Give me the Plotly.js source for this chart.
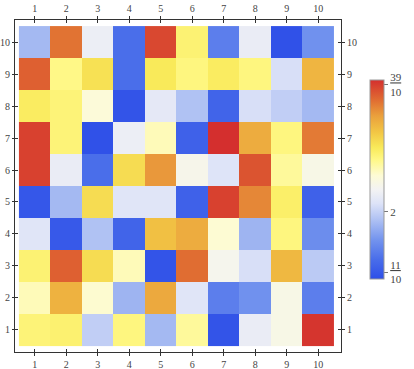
<!DOCTYPE html>
<html>
<head>
<meta charset="utf-8">
<script src="https://cdn.plot.ly/plotly-3.0.1.min.js"></script>
<style>html,body{margin:0;padding:0;background:#fff;}#chart{width:414px;height:369px;}</style>
</head>
<body>
<div id="chart"></div>
<script>
// Column and row positions
var cols = [1, 2, 3, 4, 5, 6, 7, 8, 9, 10];
var rows = [1, 2, 3, 4, 5, 6, 7, 8, 9, 10];
// Cell values, one array per row (row 1 at the bottom)
var row1  = [2.84, 2.87, 1.98, 2.81, 1.83, 2.72, 1.06, 2.25, 2.43, 3.94];
var row2  = [2.63, 3.32, 2.56, 1.80, 3.38, 2.16, 1.42, 1.56, 2.43, 1.42];
var row3  = [2.86, 3.73, 3.05, 2.63, 1.06, 3.67, 2.38, 2.10, 3.28, 1.95];
var row4  = [2.16, 1.10, 1.89, 1.20, 3.23, 3.36, 2.55, 1.80, 2.81, 1.53];
var row5  = [1.08, 1.83, 3.05, 2.16, 2.16, 1.18, 3.88, 3.55, 2.90, 1.18];
var row6  = [3.88, 2.25, 1.30, 3.05, 3.47, 2.40, 2.14, 3.79, 2.72, 2.43];
var row7  = [3.88, 2.84, 1.03, 2.27, 2.63, 1.18, 3.97, 3.36, 2.81, 3.61];
var row8  = [2.93, 2.84, 2.52, 1.06, 2.20, 1.89, 1.20, 2.10, 1.98, 1.83];
var row9  = [3.73, 2.78, 3.02, 1.30, 2.96, 2.81, 2.93, 2.81, 2.10, 3.30];
var row10 = [1.83, 3.64, 2.27, 1.30, 3.85, 2.86, 1.42, 2.25, 1.03, 1.56];
// Colour bar ticks
var barTickVals = [1.1, 2, 3.9];
var barTickText = ["<span style='text-decoration:underline'>11</span><br>10", "2", "<span style='text-decoration:underline'>39</span><br>10"];
var zMin = 1.0, zMax = 3.97;

var z = [row1, row2, row3, row4, row5, row6, row7, row8, row9, row10];

var colorscale = [
  [0.00, '#2d4ee8'], [0.10, '#4a6eea'], [0.20, '#7595ee'], [0.30, '#b0c2f3'],
  [0.38, '#dde3f8'], [0.45, '#f3f3f3'], [0.52, '#fdfbd5'], [0.60, '#fff886'],
  [0.66, '#f9ea5a'], [0.74, '#f2c544'], [0.82, '#eaa03c'], [0.90, '#e06c32'],
  [1.00, '#d42f2e']
];

var tickFont = {family: 'Liberation Serif, Times New Roman, serif', size: 10, color: '#444'};

var heat = {
  type: 'heatmap', x: cols, y: rows, z: z,
  zmin: zMin, zmax: zMax, colorscale: colorscale,
  xaxis: 'x', yaxis: 'y', hoverinfo: 'z',
  colorbar: {
    x: 374, xanchor: 'left', xref: 'paper',
    y: 0.5196, yanchor: 'middle',
    thickness: 14, thicknessmode: 'pixels',
    len: 199, lenmode: 'pixels',
    outlinewidth: 1, outlinecolor: '#999',
    tickmode: 'array', tickvals: barTickVals, ticktext: barTickText,
    ticks: 'outside', ticklen: 4, tickcolor: '#777',
    tickfont: {family: 'Liberation Serif, Times New Roman, serif', size: 11, color: '#444'}, xpad: 0, ypad: 0
  }
};
// colour bar x in paper units (left edge at 374px)
heat.colorbar.x = (374 - 15) / 330;
var dummy2 = {type: 'scatter', x: [], y: [], xaxis: 'x2', yaxis: 'y2', showlegend: false, hoverinfo: 'skip'};
var dummy3 = {type: 'scatter', x: [], y: [], xaxis: 'x3', yaxis: 'y3', showlegend: false, hoverinfo: 'skip'};

var xr = [0.375, 10.72], yr = [0.31, 10.69];
function ax(extra) {
  var base = {
    tickmode: 'array', tickvals: cols, ticktext: cols.map(String),
    showgrid: false, zeroline: false, tickfont: tickFont,
    ticklen: 3, tickcolor: '#333', tickwidth: 1, fixedrange: true,
    ticklabelstandoff: 0
  };
  for (var k in extra) base[k] = extra[k];
  return base;
}

var layout = {
  width: 414, height: 369,
  margin: {l: 15, r: 69, t: 20, b: 17},
  paper_bgcolor: '#fff', plot_bgcolor: '#fff',
  showlegend: false,
  xaxis: ax({range: xr, side: 'bottom', anchor: 'y', ticks: 'outside', showline: true, linecolor: '#333', linewidth: 1, mirror: true}),
  xaxis2: ax({range: xr, side: 'top', anchor: 'y2', overlaying: 'x', ticks: 'outside'}),
  xaxis3: ax({range: xr, side: 'bottom', anchor: 'y3', overlaying: 'x', ticks: 'inside', mirror: 'allticks', showline: true, linecolor: '#333', showticklabels: false}),
  yaxis: ax({range: yr, side: 'left', anchor: 'x', ticks: 'outside', ticklen: 2, showline: true, linecolor: '#333', linewidth: 1, mirror: true}),
  yaxis2: ax({range: yr, side: 'right', anchor: 'x2', overlaying: 'y', ticks: 'outside'}),
  yaxis3: ax({range: yr, side: 'left', anchor: 'x3', overlaying: 'y', ticks: 'inside', mirror: 'allticks', showline: true, linecolor: '#333', showticklabels: false})
};

Plotly.newPlot('chart', [heat, dummy2, dummy3], layout, {displayModeBar: false, staticPlot: true});
</script>
</body>
</html>
